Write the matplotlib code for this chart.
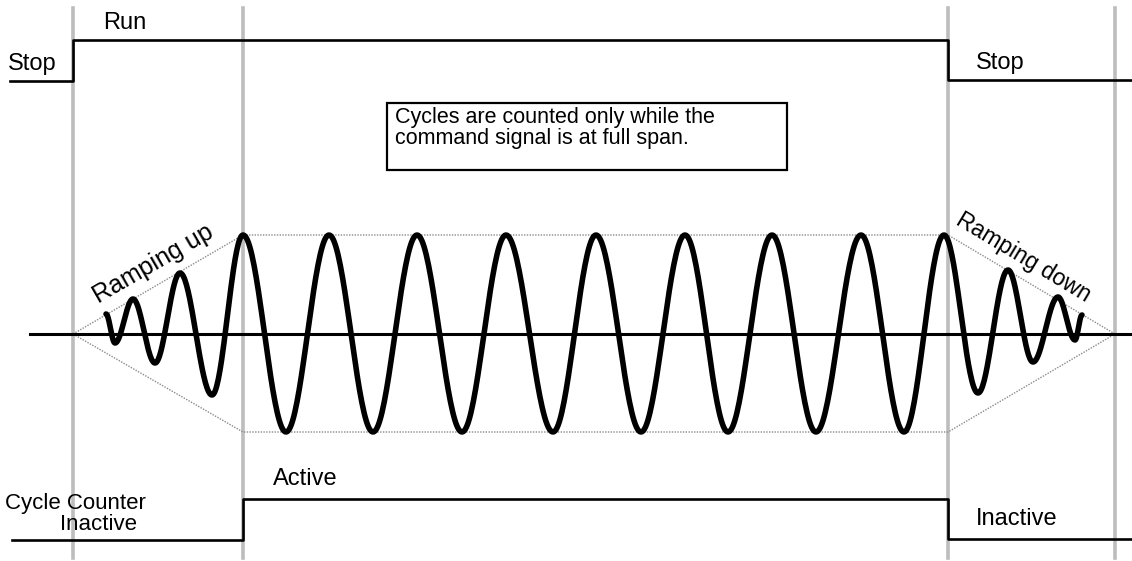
import numpy as np
import matplotlib
matplotlib.use('Agg')
import matplotlib.pyplot as plt
from matplotlib.patches import Rectangle

plt.rcParams['font.family'] = ['Liberation Sans', 'DejaVu Sans']

# Diagram in pixel coordinates (y grows downward)
W, H = 1132, 561

# stage boundaries (start of ramp up, full span, end of full span, end of ramp down)
stage_x = [73, 243, 948, 1115]
line_top, line_bottom = 8, 558

# command (Run/Stop) signal
cmd_x = [10, 73, 73, 948, 948, 1132]
cmd_y = [81, 81, 40, 40, 80, 80]

# cycle counter signal
cnt_x = [12, 243, 243, 948, 948, 1132]
cnt_y = [540, 540, 499, 499, 539, 539]

# zero line
zero_y = 334
zero_x = [30, 1132]

# envelope (full span top/bottom)
env_top, env_bot = 235, 432

# waveform extrema (x, y)
ramp_up_x = [106, 115, 133, 155, 180, 212]
ramp_up_y = [314, 343, 299, 363, 273, 395]
full_x = [243, 286, 329, 373, 417, 462, 506, 553, 596, 641, 685, 728, 772, 816, 861, 904, 944]
full_y = [235, 432] * 8 + [235]
ramp_dn_x = [978, 1008, 1033, 1058, 1075, 1082]
ramp_dn_y = [393, 270, 362, 297, 340, 315]

wave_x = ramp_up_x + full_x + ramp_dn_x
wave_y = ramp_up_y + full_y + ramp_dn_y

fig = plt.figure(figsize=(W / 100, H / 100), dpi=100)
ax = fig.add_axes([0, 0, 1, 1])
ax.set_xlim(0, W)
ax.set_ylim(H, 0)
ax.axis('off')

# gray stage lines
for x in stage_x:
    ax.plot([x, x], [line_top, line_bottom], color='#bdbdbd', lw=2.6, zorder=1)

# envelope dotted lines
env_kw = dict(color='#8a8a8a', lw=1.0, linestyle=(0, (1, 1)), zorder=2)
ax.plot([stage_x[0], stage_x[1], stage_x[2], stage_x[3]], [zero_y, env_top, env_top, zero_y], **env_kw)
ax.plot([stage_x[0], stage_x[1], stage_x[2], stage_x[3]], [zero_y, env_bot, env_bot, zero_y], **env_kw)

# zero line
ax.plot(zero_x, [zero_y, zero_y], color='black', lw=2.2, zorder=3)

# waveform: half-cosine between successive extrema
xs, ys = [], []
t = np.linspace(0, 1, 40)
for i in range(len(wave_x) - 1):
    x0, x1 = wave_x[i], wave_x[i + 1]
    y0, y1 = wave_y[i], wave_y[i + 1]
    xs.append(x0 + (x1 - x0) * t)
    ys.append(y0 + (y1 - y0) * (1 - np.cos(np.pi * t)) / 2)
ax.plot(np.concatenate(xs), np.concatenate(ys), color='black', lw=4.0,
        solid_capstyle='round', zorder=4)

# step signals
ax.plot(cmd_x, cmd_y, color='black', lw=1.9, zorder=3)
ax.plot(cnt_x, cnt_y, color='black', lw=1.9, zorder=3)

fs = 17
ax.text(8, 70, 'Stop', fontsize=fs, va='baseline', ha='left')
ax.text(103, 29, 'Run', fontsize=fs, va='baseline', ha='left')
ax.text(976, 69, 'Stop', fontsize=fs, va='baseline', ha='left')
ax.text(75, 509, 'Cycle Counter', fontsize=16, va='baseline', ha='center')
ax.text(99, 530, 'Inactive', fontsize=16, va='baseline', ha='center')
ax.text(273, 485, 'Active', fontsize=fs, va='baseline', ha='left')
ax.text(976, 525, 'Inactive', fontsize=fs, va='baseline', ha='left')

ax.text(153, 264, 'Ramping up', fontsize=18, rotation=30,
        rotation_mode='anchor', va='center', ha='center')
ax.text(1023, 257, 'Ramping down', fontsize=16.5, rotation=-31,
        rotation_mode='anchor', va='center', ha='center')

# note box
ax.add_patch(Rectangle((387, 103), 400, 67, fill=False, edgecolor='black', lw=1.6, zorder=5))
ax.text(395, 123, 'Cycles are counted only while the', fontsize=15.5, va='baseline', ha='left')
ax.text(395, 144, 'command signal is at full span.', fontsize=15.5, va='baseline', ha='left')

fig.savefig('out.png', dpi=100)
